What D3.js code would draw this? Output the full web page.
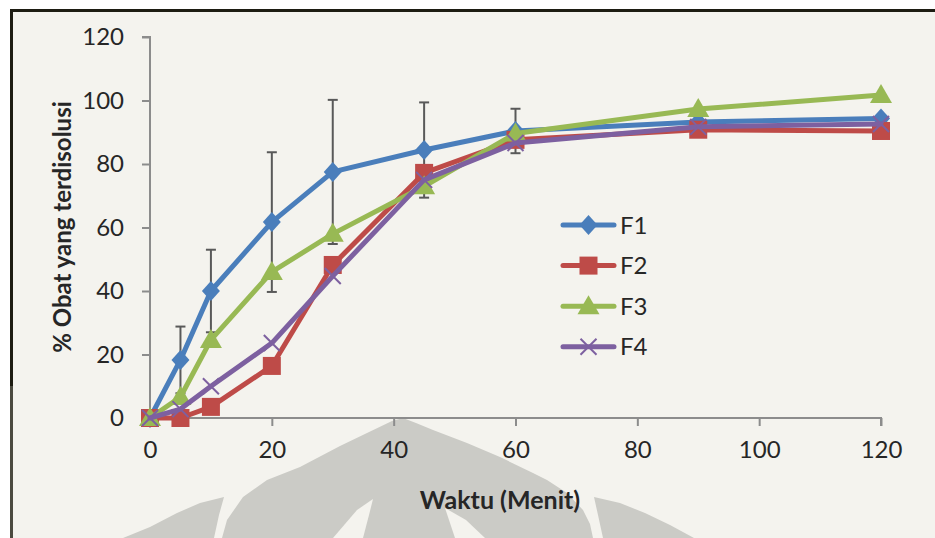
<!DOCTYPE html>
<html>
<head>
<meta charset="utf-8">
<script src="https://cdn.jsdelivr.net/npm/d3@7"></script>
<style>
  html, body { margin: 0; padding: 0; background: #ffffff; }
  svg { display: block; }
  text { font-family: Lato, "Open Sans", sans-serif; fill: #262626; }
</style>
</head>
<body>
<svg id="chart" width="935" height="538"></svg>
<script>
// Sampling times (minutes)
const times = [0, 5, 10, 20, 30, 45, 60, 90, 120];

// Percent of drug dissolved per formula
const f1 = [0, 18.3, 40.0, 61.7, 77.5, 84.4, 90.4, 93.2, 94.3];
const f2 = [0, 0, 3.5, 16.4, 48.2, 77.2, 87.6, 90.8, 90.4];
const f3 = [0, 6.6, 24.6, 46.0, 58.0, 73.0, 89.6, 97.3, 101.7];
const f4 = [0, 2.8, 10.0, 23.6, 44.7, 75.0, 86.6, 91.7, 92.6];

// Standard deviation shown for F1
const f1Sd = [0, 10.5, 13.0, 22.0, 22.7, 15.0, 7.0, 0, 0];

const seriesNames = ["F1", "F2", "F3", "F4"];
const seriesColors = ["#4a7ebb", "#be4b48", "#98b954", "#7d60a0"];
const seriesSymbols = ["diamond", "square", "triangle", "cross"];

const xTicks = [0, 20, 40, 60, 80, 100, 120];
const yTicks = [0, 20, 40, 60, 80, 100, 120];

const xTitle = "Waktu (Menit)";
const yTitle = "% Obat yang terdisolusi";

// Faint emblem printed behind the chart area
const emblemArch = [[222,538],[227,520],[243,497],[267,480],[300,467],[340,446],[367,433],[392,421],[403,418],[416,423],[433,430],[467,443],[500,457],[533,473],[547,480],[567,493],[583,510],[590,524],[593,538]];
const emblemCutLeft = [[373,499],[357,510],[333,538],[363,538],[369,515]];
const emblemCutRight = [[445,508],[455,538],[485,538],[466,520]];
const emblemLeafLeft = [[123,538],[150,527],[177,513],[200,503],[224,497],[219,515],[214,538]];
const emblemLeafRight = [[594,497],[620,503],[645,513],[670,525],[694,538],[603,538],[598,515]];

const svg = d3.select("#chart");
const W = 935, H = 538;
const bg = "#f4f3ee";

svg.append("rect").attr("x", 11).attr("y", 10).attr("width", W - 11).attr("height", H - 10).attr("fill", bg);

const emblem = svg.append("g");
const poly = d3.line().curve(d3.curveLinearClosed);
emblem.append("path").attr("d", poly(emblemArch)).attr("fill", "#cbcbc6");
emblem.append("path").attr("d", poly(emblemLeafLeft)).attr("fill", "#cbcbc6");
emblem.append("path").attr("d", poly(emblemLeafRight)).attr("fill", "#cbcbc6");
emblem.append("path").attr("d", poly(emblemCutLeft)).attr("fill", bg);
emblem.append("path").attr("d", poly(emblemCutRight)).attr("fill", bg);

// Frame
svg.append("line").attr("x1", 11).attr("x2", W).attr("y1", 10.5).attr("y2", 10.5).attr("stroke", "#1d1c12").attr("stroke-width", 3);
svg.append("line").attr("x1", 11.5).attr("x2", 11.5).attr("y1", 9).attr("y2", 386).attr("stroke", "#1d1c12").attr("stroke-width", 3);
svg.append("line").attr("x1", 11.5).attr("x2", 11.5).attr("y1", 386).attr("y2", H).attr("stroke", "#4b4a40").attr("stroke-width", 3);

const x = d3.scaleLinear().domain([0, 120]).range([150, 881]);
const y = d3.scaleLinear().domain([0, 120]).range([418, 37]);

const axisColor = "#8c8c8c";

// Y axis
const yAxis = svg.append("g").attr("transform", "translate(150,0)")
  .call(d3.axisLeft(y).tickValues(yTicks).tickSize(8).tickPadding(18).tickFormat(d3.format("d")));
yAxis.select(".domain").attr("stroke", axisColor).attr("stroke-width", 2).attr("d", `M-8,${y(120)}H0V${y(0)}`);
yAxis.selectAll(".tick line").attr("stroke", axisColor).attr("stroke-width", 2);
yAxis.selectAll(".tick text").attr("font-size", 24).attr("font-family", "Lato, sans-serif").attr("fill", "#262626");

// X axis
const xAxis = svg.append("g").attr("transform", `translate(0,${y(0)})`)
  .call(d3.axisBottom(x).tickValues(xTicks).tickSize(8).tickPadding(15).tickFormat(d3.format("d")));
xAxis.select(".domain").attr("stroke", axisColor).attr("stroke-width", 2).attr("d", `M${x(0)},0H${x(120)}V8`);
xAxis.selectAll(".tick line").attr("stroke", axisColor).attr("stroke-width", 2);
xAxis.selectAll(".tick text").attr("font-size", 24).attr("font-family", "Lato, sans-serif").attr("fill", "#262626");

// Axis titles
svg.append("text").attr("x", 500).attr("y", 509).attr("text-anchor", "middle")
  .attr("font-size", 25).attr("font-weight", "bold").attr("fill", "#1a1a1a").text(xTitle);
svg.append("text").attr("transform", "translate(71,227) rotate(-90)").attr("text-anchor", "middle")
  .attr("font-size", 24).attr("font-weight", "bold").attr("fill", "#1a1a1a").text(yTitle);

// Error bars for F1
const eb = svg.append("g").attr("stroke", "#595959").attr("stroke-width", 2);
times.forEach((t, i) => {
  if (!f1Sd[i]) return;
  const cx = x(t), top = y(f1[i] + f1Sd[i]), bot = y(f1[i] - f1Sd[i]);
  eb.append("line").attr("x1", cx).attr("x2", cx).attr("y1", top).attr("y2", bot);
  eb.append("line").attr("x1", cx - 5).attr("x2", cx + 5).attr("y1", top).attr("y2", top);
  eb.append("line").attr("x1", cx - 5).attr("x2", cx + 5).attr("y1", bot).attr("y2", bot);
});

function drawMarker(g, kind, cx, cy, color) {
  if (kind === "diamond") {
    g.append("path").attr("d", `M${cx},${cy-10}L${cx+9},${cy}L${cx},${cy+10}L${cx-9},${cy}Z`).attr("fill", color);
  } else if (kind === "square") {
    g.append("rect").attr("x", cx - 9).attr("y", cy - 9).attr("width", 18).attr("height", 18).attr("fill", color);
  } else if (kind === "triangle") {
    g.append("path").attr("d", `M${cx},${cy-11}L${cx+11},${cy+8}L${cx-11},${cy+8}Z`).attr("fill", color);
  } else {
    g.append("path").attr("d", `M${cx-8},${cy-8}L${cx+8},${cy+8}M${cx+8},${cy-8}L${cx-8},${cy+8}`)
      .attr("stroke", color).attr("stroke-width", 2).attr("fill", "none");
  }
}

const allSeries = [f1, f2, f3, f4];
const line = d3.line().x((d, i) => x(times[i])).y(d => y(d));

allSeries.forEach((vals, s) => {
  const g = svg.append("g");
  g.append("path").datum(vals).attr("d", line).attr("fill", "none")
    .attr("stroke", seriesColors[s]).attr("stroke-width", 5).attr("stroke-linejoin", "round").attr("stroke-linecap", "round");
  vals.forEach((v, i) => drawMarker(g, seriesSymbols[s], x(times[i]), y(v), seriesColors[s]));
});

// Legend
const legend = svg.append("g");
seriesNames.forEach((name, s) => {
  const ly = 225 + s * 40.6;
  legend.append("line").attr("x1", 563).attr("x2", 614).attr("y1", ly).attr("y2", ly)
    .attr("stroke", seriesColors[s]).attr("stroke-width", 5).attr("stroke-linecap", "round");
  drawMarker(legend, seriesSymbols[s], 588.5, ly, seriesColors[s]);
  legend.append("text").attr("x", 620).attr("y", ly + 8.5).attr("font-size", 24).attr("fill", "#1a1a1a").text(name);
});
</script>
</body>
</html>
